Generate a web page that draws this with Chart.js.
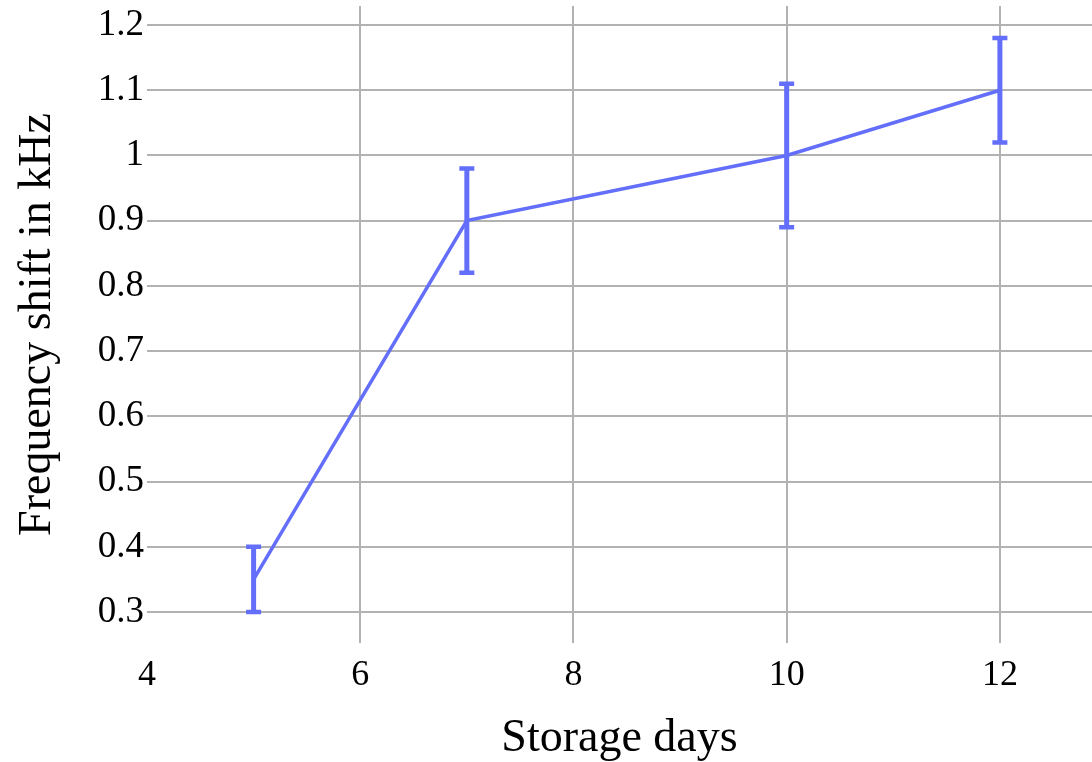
<!DOCTYPE html>
<html>
<head>
<meta charset="utf-8">
<script src="https://cdn.jsdelivr.net/npm/chart.js@4/dist/chart.umd.min.js"></script>
<style>
  body { margin: 0; background: #fff; }
</style>
</head>
<body>
<canvas id="chart" width="1092" height="762"></canvas>
<script>
// data
const storageDays = [5, 7, 10, 12];
const freqShift = [0.35, 0.9, 1.0, 1.1];
const errLow = [0.30, 0.82, 0.89, 1.02];
const errHigh = [0.40, 0.98, 1.11, 1.18];

const xTicks = [4, 6, 8, 10, 12];
const yTicks = [0.3, 0.4, 0.5, 0.6, 0.7, 0.8, 0.9, 1.0, 1.1, 1.2];
const yTickLabels = ['0.3', '0.4', '0.5', '0.6', '0.7', '0.8', '0.9', '1', '1.1', '1.2'];

const blue = 'rgb(99,110,250)';
const gridColor = 'rgb(178,178,178)';
const serif = "'Liberation Serif', 'DejaVu Serif', serif";

// draws the vertical error bars with caps
const errorBars = {
    id: 'errorBars',
    afterDatasetsDraw(chart) {
        const ctx = chart.ctx;
        const xs = chart.scales.x, ys = chart.scales.y;
        ctx.save();
        ctx.strokeStyle = blue;
        ctx.lineCap = 'butt';
        storageDays.forEach((d, i) => {
            const px = xs.getPixelForValue(d);
            const top = ys.getPixelForValue(errHigh[i]);
            const bot = ys.getPixelForValue(errLow[i]);
            ctx.lineWidth = 5;
            ctx.beginPath();
            ctx.moveTo(px, top);
            ctx.lineTo(px, bot);
            ctx.stroke();
            ctx.lineWidth = 4.5;
            ctx.beginPath();
            ctx.moveTo(px - 7.5, top);
            ctx.lineTo(px + 7.5, top);
            ctx.moveTo(px - 7.5, bot);
            ctx.lineTo(px + 7.5, bot);
            ctx.stroke();
        });
        ctx.restore();
    }
};

const chart = new Chart(document.getElementById('chart'), {
    type: 'line',
    data: {
        datasets: [{
            data: storageDays.map((d, i) => ({x: d, y: freqShift[i]})),
            borderColor: blue,
            borderWidth: 3.5,
            pointRadius: 0,
            fill: false,
            tension: 0
        }]
    },
    options: {
        responsive: false,
        animation: false,
        layout: { padding: { top: 6, right: 0, left: 0, bottom: 0 } },
        plugins: {
            legend: { display: false },
            tooltip: { enabled: false }
        },
        scales: {
            x: {
                type: 'linear',
                min: 4,
                max: 12.864,
                afterBuildTicks: (s) => { s.ticks = xTicks.map(v => ({value: v})); },
                afterFit: (s) => { s.height = 119; s.paddingLeft = 0; s.paddingRight = 0; },
                border: { display: false },
                grid: {
                    color: (c) => c.tick && c.tick.value === 4 ? 'rgba(0,0,0,0)' : gridColor,
                    lineWidth: 2,
                    drawTicks: false
                },
                ticks: {
                    color: '#000',
                    font: { family: serif, size: 36 },
                    padding: 11,
                    maxRotation: 0,
                    callback: (v) => String(v)
                },
                title: {
                    display: true,
                    text: 'Storage days',
                    color: '#000',
                    font: { family: serif, size: 46, lineHeight: 0.8 },
                    padding: { top: 0, bottom: 5 }
                }
            },
            y: {
                type: 'linear',
                min: 0.2525,
                max: 1.2291,
                afterBuildTicks: (s) => { s.ticks = yTicks.map(v => ({value: v})); },
                afterFit: (s) => { s.width = 147; s.paddingTop = 0; s.paddingBottom = 0; },
                border: { display: false },
                grid: {
                    color: gridColor,
                    lineWidth: 2,
                    drawTicks: false
                },
                ticks: {
                    color: '#000',
                    font: { family: serif, size: 37 },
                    padding: 3,
                    callback: (v) => yTickLabels[yTicks.findIndex(t => Math.abs(t - v) < 1e-6)]
                },
                title: {
                    display: true,
                    text: 'Frequency shift in kHz',
                    color: '#000',
                    font: { family: serif, size: 46 },
                    padding: { top: 10, bottom: 0 }
                }
            }
        }
    },
    plugins: [errorBars]
});
</script>
</body>
</html>
